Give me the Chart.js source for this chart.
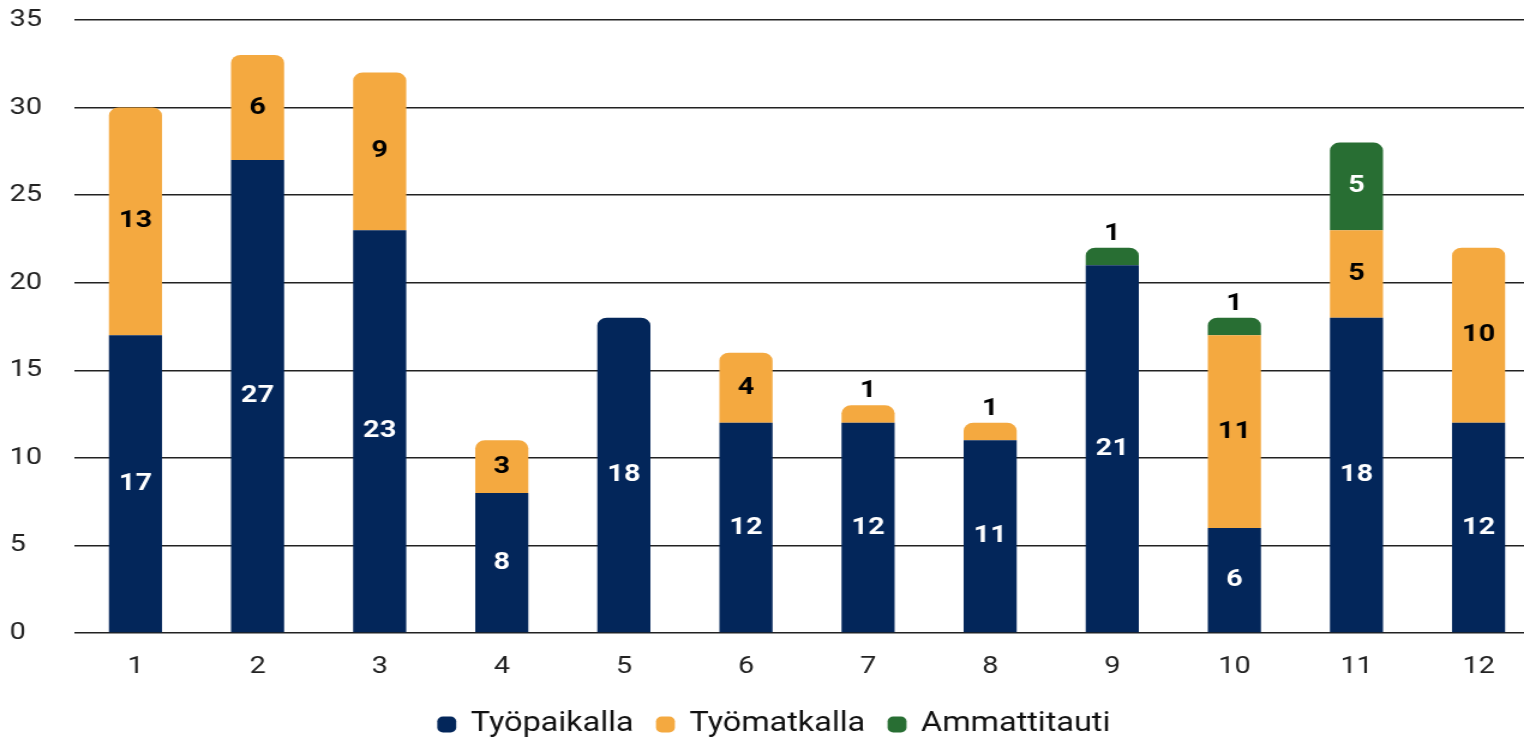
<!DOCTYPE html>
<html>
<head>
<meta charset="utf-8">
<script src="https://cdn.jsdelivr.net/npm/chart.js@4"></script>
<style>
  html, body { margin: 0; padding: 0; background: #fff; overflow: hidden; }
  /* the reference picture is stretched sideways, so the chart is drawn narrower and widened */
  #wrap { position: absolute; left: 0; top: 0; width: 1288px; height: 748px;
          transform: scaleX(1.2); transform-origin: 0 0; }
</style>
</head>
<body>
<div id="wrap"><canvas id="myChart"></canvas></div>
<script>
const months = ['1', '2', '3', '4', '5', '6', '7', '8', '9', '10', '11', '12'];
const tyopaikalla = [17, 27, 23, 8, 18, 12, 12, 11, 21, 6, 18, 12];
const tyomatkalla = [13, 6, 9, 3, null, 4, 1, 1, null, 11, 5, 10];
const ammattitauti = [null, null, null, null, null, null, null, null, 1, 1, 5, null];
const yTicks = [0, 5, 10, 15, 20, 25, 30, 35];

const NAVY = '#03265A';
const ORANGE = '#F4A940';
const GREEN = '#286E33';

Chart.defaults.font.family = 'Roboto, "Liberation Sans", sans-serif';

// round only the top segment of each stack
function topRadius(c) {
  const i = c.dataIndex;
  const sets = c.chart.data.datasets;
  for (let d = sets.length - 1; d >= 0; d--) {
    const v = sets[d].data[i];
    if (v !== null && v !== undefined && v !== 0) {
      if (d === c.datasetIndex) return { topLeft: 8, topRight: 8, bottomLeft: 0, bottomRight: 0 };
      break;
    }
  }
  return 0;
}

const valueLabels = {
  id: 'valueLabels',
  afterDatasetsDraw(chart) {
    const ctx = chart.ctx;
    ctx.save();
    ctx.font = 'bold 24px Roboto, "Liberation Sans", sans-serif';
    ctx.textAlign = 'center';
    ctx.textBaseline = 'middle';
    chart.data.datasets.forEach((ds, di) => {
      const meta = chart.getDatasetMeta(di);
      meta.data.forEach((bar, i) => {
        const v = ds.data[i];
        if (v === null || v === undefined || v === 0) return;
        const h = Math.abs(bar.base - bar.y);
        if (h < 25) {
          ctx.fillStyle = '#000';
          ctx.fillText(String(v), bar.x, bar.y - 14);
        } else {
          ctx.fillStyle = ds.labelColor;
          ctx.fillText(String(v), bar.x, (bar.y + bar.base) / 2);
        }
      });
    });
    ctx.restore();
  }
};

new Chart(document.getElementById('myChart'), {
  type: 'bar',
  data: {
    labels: months,
    datasets: [
      { label: 'Työpaikalla', data: tyopaikalla, backgroundColor: NAVY, labelColor: '#fff' },
      { label: 'Työmatkalla', data: tyomatkalla, backgroundColor: ORANGE, labelColor: '#000' },
      { label: 'Ammattitauti', data: ammattitauti, backgroundColor: GREEN, labelColor: '#fff' }
    ].map(d => Object.assign(d, {
      barPercentage: 0.435,
      categoryPercentage: 1,
      borderRadius: topRadius,
      borderSkipped: false
    }))
  },
  options: {
    responsive: true,
    maintainAspectRatio: false,
    animation: false,
    layout: { padding: { left: 8, right: 5, top: 20, bottom: 0 } },
    plugins: {
      legend: {
        position: 'bottom',
        labels: {
          usePointStyle: true,
          pointStyle: 'rectRounded',
          boxWidth: 13,
          boxHeight: 13,
          padding: 20,
          color: '#111',
          font: { size: 27 }
        }
      },
      tooltip: { enabled: false },
      title: { display: false }
    },
    scales: {
      x: {
        stacked: true,
        grid: { display: false },
        border: { display: false },
        ticks: { color: '#222', font: { size: 24 }, padding: 12 },
        afterFit(s) { s.height = 58; }
      },
      y: {
        stacked: true,
        min: 0,
        max: 35,
        afterBuildTicks(s) { s.ticks = yTicks.map(v => ({ value: v })); },
        grid: { color: '#222', lineWidth: 1.5, drawTicks: false },
        border: { display: false },
        ticks: { color: '#222', font: { size: 24 }, crossAlign: 'far', padding: 0 },
        afterFit(s) { s.width = 54; }
      }
    }
  },
  plugins: [valueLabels]
});
</script>
</body>
</html>
